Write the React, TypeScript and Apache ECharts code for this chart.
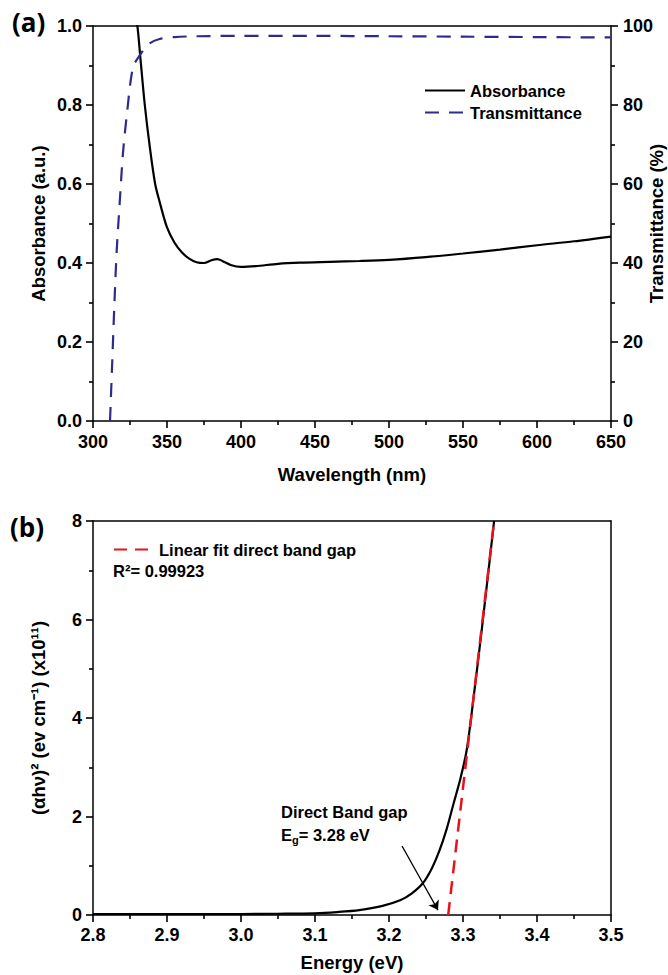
import React, { useEffect, useRef } from "react";
import * as echarts from "echarts";

// ---- Panel (a) data ----
const absWavelength = [326, 330, 332, 335, 338.5, 342, 345, 350, 355, 360, 365, 370, 375, 380, 384, 388, 393, 400, 410, 425, 440, 460, 480, 500, 525, 550, 575, 600, 625, 650];
const absorbance = [1.1, 1.0, 0.92, 0.8, 0.69, 0.6, 0.555, 0.49, 0.452, 0.427, 0.411, 0.402, 0.4, 0.407, 0.41, 0.404, 0.395, 0.39, 0.392, 0.398, 0.401, 0.403, 0.405, 0.408, 0.415, 0.424, 0.434, 0.445, 0.455, 0.467];
const transWavelength = [311.5, 313, 314.5, 316, 318, 320.3, 323, 327, 331.8, 338, 345, 355, 370, 400, 450, 500, 550, 600, 650];
const transmittance = [0, 15, 30, 43, 55, 68, 78, 89.5, 92.7, 95.5, 96.7, 97.2, 97.4, 97.5, 97.5, 97.4, 97.3, 97.2, 97.1];
const xTicksA = [300, 350, 400, 450, 500, 550, 600, 650];
const yTicksAbs = [0, 0.2, 0.4, 0.6, 0.8, 1.0];
const yTicksTrans = [0, 20, 40, 60, 80, 100];

// ---- Panel (b) data ----
const energy = [2.8, 2.9, 3.0, 3.05, 3.1, 3.13, 3.16, 3.19, 3.215, 3.23, 3.246, 3.258, 3.268, 3.278, 3.287, 3.296, 3.305, 3.315, 3.325, 3.333, 3.342];
const ahv2 = [0.02, 0.02, 0.02, 0.025, 0.035, 0.06, 0.1, 0.18, 0.3, 0.43, 0.65, 0.95, 1.3, 1.75, 2.25, 2.74, 3.35, 4.5, 5.75, 6.8, 8.0];
const fitEnergy = [3.28, 3.342];
const fitValues = [0, 8];
const arrowStart = [3.2176, 1.4];
const arrowEnd = [3.2662, 0.1];
const xTicksB = [2.8, 2.9, 3.0, 3.1, 3.2, 3.3, 3.4, 3.5];
const yTicksB = [0, 2, 4, 6, 8];

const FONT = "'Liberation Sans', Arial, sans-serif";
const BLUE = "#2f2b8a";
const RED = "#e8121a";

const first = (a: number[]) => a[0];
const last = (a: number[]) => a[a.length - 1];
const range = (a: number[]) => ({ min: first(a), max: last(a), interval: a[1] - a[0] });

const labelSt = { color: "#000", fontFamily: FONT, fontWeight: "bold", fontSize: 18 };
const nameSt = { color: "#000", fontFamily: FONT, fontWeight: "bold", fontSize: 18.5 };

const tickedAxis = (labelMargin: number) => ({
  axisLine: { show: true, onZero: false, lineStyle: { color: "#000", width: 1.5 } },
  axisTick: { show: true, inside: false, length: 7, lineStyle: { color: "#000", width: 1.6 } },
  minorTick: { show: true, splitNumber: 2, length: 4, lineStyle: { color: "#000", width: 1.6 } },
  splitLine: { show: false },
  minorSplitLine: { show: false },
  axisLabel: { show: true, ...labelSt, margin: labelMargin },
  nameTextStyle: nameSt,
  nameMoveOverlap: false,
});

const frameAxis = () => ({
  axisLine: { show: true, onZero: false, lineStyle: { color: "#000", width: 1.5 } },
  axisTick: { show: false },
  minorTick: { show: false },
  axisLabel: { show: false },
  splitLine: { show: false },
});

export default function App() {
  const ref = useRef<HTMLDivElement>(null);
  useEffect(() => {
    if (!ref.current) return;
    const chart = echarts.init(ref.current, null, { renderer: "svg" });
    const option: any = {
      animation: false,
      backgroundColor: "#fff",
      grid: [
        { left: 93, top: 26, width: 518, height: 395, show: false, containLabel: false, outerBoundsMode: "none" },
        { left: 93, top: 521, width: 518, height: 394, show: false, containLabel: false, outerBoundsMode: "none" },
      ],
      xAxis: [
        {
          type: "value", gridIndex: 0, position: "bottom", ...range(xTicksA), ...tickedAxis(12),
          name: "Wavelength (nm)", nameLocation: "middle", nameGap: 44,
        },
        {
          type: "value", gridIndex: 1, position: "bottom", ...range(xTicksB), ...tickedAxis(11),
          axisLabel: { show: true, ...labelSt, margin: 11, formatter: (v: number) => v.toFixed(1) },
          name: "Energy (eV)", nameLocation: "middle", nameGap: 38,
        },
        { type: "value", gridIndex: 0, position: "top", ...range(xTicksA), ...frameAxis() },
        { type: "value", gridIndex: 1, position: "top", ...range(xTicksB), ...frameAxis() },
      ],
      yAxis: [
        {
          type: "value", gridIndex: 0, position: "left", ...range(yTicksAbs), ...tickedAxis(11),
          axisLabel: { show: true, ...labelSt, margin: 11, formatter: (v: number) => v.toFixed(1) },
          name: "Absorbance (a.u.)", nameLocation: "middle", nameGap: 45, nameRotate: 90,
        },
        {
          type: "value", gridIndex: 0, position: "right", ...range(yTicksTrans), ...tickedAxis(12),
          name: "Transmittance (%)", nameLocation: "middle", nameGap: 36, nameRotate: 90,
        },
        {
          type: "value", gridIndex: 1, position: "left", ...range(yTicksB), ...tickedAxis(11),
          name: "(αhν)² (ev cm⁻¹) (x10¹¹)", nameLocation: "middle", nameGap: 45, nameRotate: 90,
        },
        { type: "value", gridIndex: 1, position: "right", ...range(yTicksB), ...frameAxis() },
      ],
      legend: [
        {
          orient: "vertical", left: 424, top: 82, itemWidth: 40, itemHeight: 14, itemGap: 5, padding: 0,
          data: ["Absorbance", "Transmittance"],
          itemStyle: { opacity: 0 },
          textStyle: { color: "#000", fontFamily: FONT, fontWeight: "bold", fontSize: 16.5 },
        },
        {
          orient: "vertical", left: 113, top: 541, itemWidth: 40, itemHeight: 14, padding: 0,
          data: ["Linear fit direct band gap"],
          itemStyle: { opacity: 0 },
          textStyle: { color: "#000", fontFamily: FONT, fontWeight: "bold", fontSize: 16.5 },
        },
      ],
      series: [
        {
          name: "Absorbance", type: "line", xAxisIndex: 0, yAxisIndex: 0,
          data: absWavelength.map((x, i) => [x, absorbance[i]]),
          showSymbol: false, symbol: "none", smooth: 0.3, clip: true,
          lineStyle: { color: "#000", width: 2.2 }, itemStyle: { color: "#000" },
        },
        {
          name: "Transmittance", type: "line", xAxisIndex: 0, yAxisIndex: 1,
          data: transWavelength.map((x, i) => [x, transmittance[i]]),
          showSymbol: false, symbol: "none", smooth: 0.3, clip: true,
          lineStyle: { color: BLUE, width: 2.2, type: [14, 10] }, itemStyle: { color: BLUE },
        },
        {
          name: "(αhν)²", type: "line", xAxisIndex: 1, yAxisIndex: 2,
          data: energy.map((x, i) => [x, ahv2[i]]),
          showSymbol: false, symbol: "none", smooth: 0.3, clip: true,
          lineStyle: { color: "#000", width: 2.2 }, itemStyle: { color: "#000" },
          markLine: {
            silent: true, animation: false,
            symbol: ["none", "arrow"], symbolSize: 9,
            lineStyle: { color: "#000", width: 1.3, type: "solid" },
            label: { show: false },
            data: [[{ coord: arrowStart }, { coord: arrowEnd }]],
          },
        },
        {
          name: "Linear fit direct band gap", type: "line", xAxisIndex: 1, yAxisIndex: 2,
          data: fitEnergy.map((x, i) => [x, fitValues[i]]),
          showSymbol: false, symbol: "none", clip: true,
          lineStyle: { color: RED, width: 2.5, type: [13, 8] }, itemStyle: { color: RED },
        },
      ],
      graphic: [
        { type: "text", left: 12, top: 9, style: { text: "(a)", fontFamily: "'Open Sans', sans-serif", fontWeight: "bold", fontSize: 26, fill: "#000" } },
        { type: "text", left: 10, top: 514, style: { text: "(b)", fontFamily: "'Open Sans', sans-serif", fontWeight: "bold", fontSize: 26, fill: "#000" } },
        { type: "text", left: 113, top: 562, style: { text: "R²= 0.99923", fontFamily: FONT, fontWeight: "bold", fontSize: 16.5, fill: "#000" } },
        { type: "text", left: 281, top: 803, style: { text: "Direct Band gap", fontFamily: FONT, fontWeight: "bold", fontSize: 16.5, fill: "#000" } },
        {
          type: "text", left: 281, top: 824,
          style: {
            text: "{m|E}{s|g}{m|= 3.28 eV}",
            rich: {
              m: { fontFamily: FONT, fontWeight: "bold", fontSize: 16.5, fill: "#000", lineHeight: 20 },
              s: { fontFamily: FONT, fontWeight: "bold", fontSize: 11, fill: "#000", lineHeight: 20, padding: [10, 0, 0, 0] },
            },
          },
        },
      ],
    };
    chart.setOption(option);
    return () => chart.dispose();
  }, []);
  return <div ref={ref} style={{ position: "absolute", left: 0, top: 0, width: 668, height: 975 }} />;
}
